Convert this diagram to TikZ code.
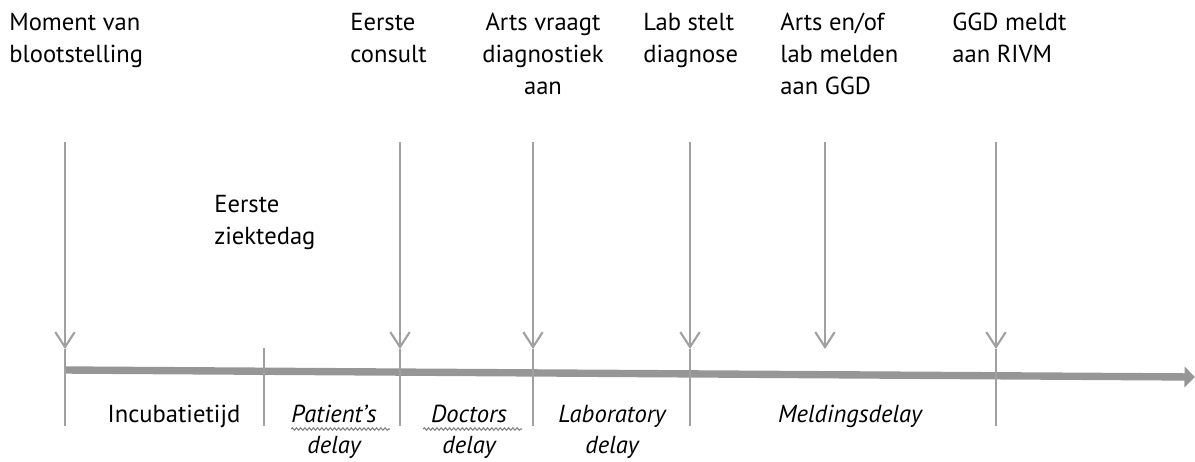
\documentclass[tikz,border=0pt]{standalone}
\usepackage{fontspec}
\setmainfont{PT Sans}
\usetikzlibrary{arrows.meta,decorations.pathmorphing}
\definecolor{lijngrijs}{RGB}{160,160,160}
\definecolor{asgrijs}{RGB}{150,150,150}
\begin{document}
\begin{tikzpicture}[x=0.02cm,y=-0.02cm,font=\fontsize{14}{18.2}\selectfont]
  \tikzset{
    label/.style={inner sep=0pt, anchor=north west, align=left},
    delay/.style={inner sep=0pt, anchor=north, align=center, font=\fontsize{14}{17.6}\selectfont\itshape},
    pijl/.style={draw=lijngrijs, line width=1.2pt, -{Straight Barb[length=8.5pt,width=11pt,line width=1.2pt]}},
    streep/.style={draw=lijngrijs, line width=1.2pt},
    kronkel/.style={draw=gray, line width=0.6pt, decorate, decoration={snake, amplitude=0.7pt, segment length=2.4pt}}
  }
  \useasboundingbox (0,0) rectangle (1195,461);
  % gebeurtenissen
  \node[label] (bloot) at (9,13) {Moment van\\blootstelling};
  \node[label] (consult) at (350,13) {Eerste\\consult};
  \node[inner sep=0pt, anchor=north, align=center] (aanvraag) at (543,13) {Arts vraagt\\diagnostiek\\aan};
  \node[label] (diagnose) at (643,13) {Lab stelt\\diagnose};
  \node[label] (melden) at (780,13) {Arts en/of\\lab melden\\aan GGD};
  \node[label] (rivm) at (952,13) {GGD meldt\\aan RIVM};
  \node[label] (ziek) at (214,195) {Eerste\\ziektedag};
  % vertragingen
  \node[inner sep=0pt, anchor=north] (incub) at (174,405) {Incubatietijd};
  \node[delay] (patient) at (334,405) {Patient’s\\delay};
  \node[delay] (doctors) at (469,405) {Doctors\\delay};
  \node[delay] (lab) at (612,405) {Laboratory\\delay};
  \node[delay] (meld) at (850,405) {Meldingsdelay};
  % tijdlijn
  \coordinate (begin) at (65,370);
  \coordinate (eind) at (1195,377);
  \draw[asgrijs, line width=4.2pt, -{Triangle[length=6pt,width=11.5pt]}] (begin) -- (eind);
  % pijlen
  \coordinate (a1) at (65,142);  \coordinate (b1) at (65,349);
  \coordinate (a2) at (400,142); \coordinate (b2) at (400,349);
  \coordinate (a3) at (533,142); \coordinate (b3) at (533,349);
  \coordinate (a4) at (690,142); \coordinate (b4) at (690,349);
  \coordinate (a5) at (825,142); \coordinate (b5) at (825,349);
  \coordinate (a6) at (996,142); \coordinate (b6) at (996,349);
  \coordinate (s0) at (264,348);
  \draw[pijl] (a1) -- (b1);
  \draw[pijl] (a2) -- (b2);
  \draw[pijl] (a3) -- (b3);
  \draw[pijl] (a4) -- (b4);
  \draw[pijl] (a5) -- (b5);
  \draw[pijl] (a6) -- (b6);
  % streepjes door de tijdlijn
  \draw[streep] (b1) -- (65,426);
  \draw[streep] (s0) -- (264,426);
  \draw[streep] (b2) -- (400,426);
  \draw[streep] (b3) -- (533,426);
  \draw[streep] (b4) -- (690,426);
  \draw[streep] (b6) -- (996,426);
  % spellingskronkels
  \draw[kronkel] (291,429) -- (390,429);
  \draw[kronkel] (423,429) -- (522,429);
\end{tikzpicture}
\end{document}
